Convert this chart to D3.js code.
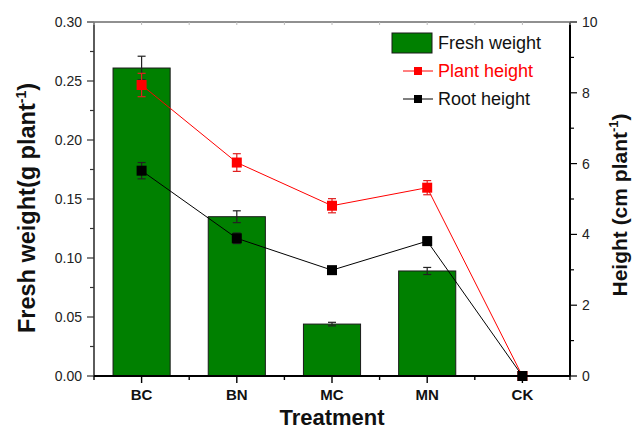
<!DOCTYPE html>
<html>
<head>
<meta charset="utf-8">
<script src="https://cdn.jsdelivr.net/npm/d3@7"></script>
<style>
  html, body { margin: 0; padding: 0; background: #fff; }
  svg { display: block; font-family: "Liberation Sans", Arial, sans-serif; }
</style>
</head>
<body>
<script>
const categories = ["BC", "BN", "MC", "MN", "CK"];
const freshWeight = [0.261, 0.135, 0.044, 0.089, 0];
const freshWeightErr = [0.010, 0.005, 0.0015, 0.003, 0];
const plantHeight = [8.22, 6.03, 4.81, 5.32, 0];
const plantHeightErr = [0.33, 0.25, 0.20, 0.20, 0];
const rootHeight = [5.80, 3.89, 2.99, 3.81, 0];
const rootHeightErr = [0.23, 0.15, 0.05, 0.12, 0];
const leftTicks = [0, 0.05, 0.10, 0.15, 0.20, 0.25, 0.30];
const rightTicks = [0, 2, 4, 6, 8, 10];
const legendLabels = ["Fresh weight", "Plant height", "Root height"];

const W = 634, H = 429;
const m = { left: 94, right: 64, top: 22, bottom: 53 };
const pw = W - m.left - m.right, ph = H - m.top - m.bottom;

const svg = d3.select("body").append("svg").attr("width", W).attr("height", H);
const g = svg.append("g").attr("transform", `translate(${m.left},${m.top})`);

const x = d3.scaleBand().domain(categories).range([0, pw]).paddingInner(0.4).paddingOuter(0.2);
const xStep = pw / categories.length;
const yL = d3.scaleLinear().domain([0, 0.30]).range([ph, 0]);
const yR = d3.scaleLinear().domain([0, 10]).range([ph, 0]);
const cx = c => x(c) + x.bandwidth() / 2;
const green = "#008000";

// Bars
g.selectAll("rect.bar").data(categories).join("rect")
  .attr("class", "bar")
  .attr("x", c => x(c)).attr("width", x.bandwidth())
  .attr("y", (c, i) => yL(freshWeight[i]))
  .attr("height", (c, i) => ph - yL(freshWeight[i]))
  .attr("fill", green).attr("stroke", "#1a1a1a").attr("stroke-width", 1);

function errBars(vals, errs, scale, color, capW) {
  const eg = g.append("g").attr("stroke", color).attr("stroke-width", 1.2);
  categories.forEach((c, i) => {
    if (!errs[i]) return;
    const X = cx(c), y1 = scale(vals[i] + errs[i]), y2 = scale(vals[i] - errs[i]);
    eg.append("line").attr("x1", X).attr("x2", X).attr("y1", y1).attr("y2", y2);
    eg.append("line").attr("x1", X - capW).attr("x2", X + capW).attr("y1", y1).attr("y2", y1);
    eg.append("line").attr("x1", X - capW).attr("x2", X + capW).attr("y1", y2).attr("y2", y2);
  });
}
errBars(freshWeight, freshWeightErr, yL, "#222", 4);

// Lines
function series(vals, errs, color, errColor) {
  const line = d3.line().x((d, i) => cx(categories[i])).y(d => yR(d));
  g.append("path").datum(vals).attr("d", line).attr("fill", "none")
    .attr("stroke", color).attr("stroke-width", 1);
  errBars(vals, errs, yR, errColor, 4);
  const s = 10;
  g.selectAll(null).data(vals).join("rect")
    .attr("x", (d, i) => cx(categories[i]) - s / 2)
    .attr("y", d => yR(d) - s / 2)
    .attr("width", s).attr("height", s)
    .attr("fill", color);
}
series(plantHeight, plantHeightErr, "#ff0000", "#e02020");
series(rootHeight, rootHeightErr, "#000000", "#222");

// left axis
const la = svg.append("g").attr("transform", `translate(${m.left},${m.top})`);
la.append("line").attr("x1", 0).attr("x2", 0).attr("y1", 0).attr("y2", ph).attr("stroke", "#333").attr("stroke-width", 1.6);
la.selectAll("line.maj").data(leftTicks).join("line")
  .attr("x1", -7).attr("x2", 0).attr("y1", d => yL(d)).attr("y2", d => yL(d)).attr("stroke", "#333").attr("stroke-width", 1.2);
la.selectAll("line.min").data(leftTicks.slice(0, -1)).join("line")
  .attr("x1", -4).attr("x2", 0).attr("y1", d => yL(d + 0.025)).attr("y2", d => yL(d + 0.025)).attr("stroke", "#333").attr("stroke-width", 1.2);
la.selectAll("text").data(leftTicks).join("text")
  .attr("x", -12).attr("y", d => yL(d)).attr("dy", "0.36em")
  .attr("text-anchor", "end").attr("font-size", 14).attr("fill", "#222")
  .text(d => d3.format(".2f")(d));

// right axis
const ra = svg.append("g").attr("transform", `translate(${m.left + pw},${m.top})`);
ra.append("line").attr("x1", 0).attr("x2", 0).attr("y1", 0).attr("y2", ph).attr("stroke", "#000").attr("stroke-width", 2);
ra.selectAll("line.maj").data(rightTicks).join("line")
  .attr("x1", 0).attr("x2", 7).attr("y1", d => yR(d)).attr("y2", d => yR(d)).attr("stroke", "#000").attr("stroke-width", 1.2);
ra.selectAll("line.min").data(rightTicks.slice(0, -1)).join("line")
  .attr("x1", 0).attr("x2", 4).attr("y1", d => yR(d + 1)).attr("y2", d => yR(d + 1)).attr("stroke", "#000").attr("stroke-width", 1.2);
ra.selectAll("text").data(rightTicks).join("text")
  .attr("x", 12).attr("y", d => yR(d)).attr("dy", "0.36em")
  .attr("text-anchor", "start").attr("font-size", 14).attr("fill", "#222")
  .text(d => d);

// top axis
const ta = svg.append("g").attr("transform", `translate(${m.left},${m.top})`);
ta.append("line").attr("x1", 0).attr("x2", pw).attr("y1", 0).attr("y2", 0).attr("stroke", "#222").attr("stroke-width", 1.2);
const topTicks = d3.range(0, categories.length * 2 + 1).map(k => k * xStep / 2);
ta.selectAll("line.t").data(topTicks).join("line")
  .attr("x1", d => d).attr("x2", d => d).attr("y1", 0).attr("y2", 3).attr("stroke", "#bbb").attr("stroke-width", 1);

// bottom axis
const ba = svg.append("g").attr("transform", `translate(${m.left},${m.top + ph})`);
ba.append("line").attr("x1", 0).attr("x2", pw).attr("y1", 0).attr("y2", 0).attr("stroke", "#000").attr("stroke-width", 2);
ba.selectAll("line.maj").data(categories).join("line")
  .attr("x1", c => cx(c)).attr("x2", c => cx(c)).attr("y1", 0).attr("y2", 7).attr("stroke", "#000").attr("stroke-width", 1.4);
ba.selectAll("line.min").data(d3.range(0, categories.length + 1)).join("line")
  .attr("x1", k => k * xStep).attr("x2", k => k * xStep).attr("y1", 0).attr("y2", 4).attr("stroke", "#000").attr("stroke-width", 1.4);
ba.selectAll("text").data(categories).join("text")
  .attr("x", c => cx(c)).attr("y", 24).attr("text-anchor", "middle")
  .attr("font-size", 15).attr("font-weight", "bold").attr("fill", "#111").text(c => c);

// Axis titles
svg.append("text").attr("x", m.left + pw / 2).attr("y", 425).attr("text-anchor", "middle")
  .attr("font-size", 22).attr("font-weight", "bold").attr("fill", "#111").text("Treatment");

const lt = svg.append("text").attr("transform", `translate(35,208) rotate(-90)`)
  .attr("text-anchor", "middle").attr("font-size", 23.5).attr("font-weight", "bold").attr("fill", "#111");
lt.append("tspan").text("Fresh weight(g plant");
lt.append("tspan").attr("font-size", 14).attr("dy", -9).text("-1");
lt.append("tspan").attr("dy", 9).text(")");

const rt = svg.append("text").attr("transform", `translate(627,205) rotate(-90)`)
  .attr("text-anchor", "middle").attr("font-size", 21).attr("font-weight", "bold").attr("fill", "#111");
rt.append("tspan").text("Height (cm plant");
rt.append("tspan").attr("font-size", 13).attr("dy", -9).text("-1");
rt.append("tspan").attr("dy", 9).text(")");

// Legend
const lg = svg.append("g");
lg.append("rect").attr("x", 392).attr("y", 33).attr("width", 40).attr("height", 20)
  .attr("fill", green).attr("stroke", "#1a1a1a").attr("stroke-width", 1);
lg.append("text").attr("x", 438).attr("y", 49).attr("font-size", 18).attr("fill", "#111").text(legendLabels[0]);
const legLines = [{ y: 71, color: "#ff0000", label: legendLabels[1], ty: 77 }, { y: 99, color: "#000", label: legendLabels[2], ty: 105 }];
legLines.forEach(d => {
  lg.append("line").attr("x1", 403).attr("x2", 433).attr("y1", d.y).attr("y2", d.y).attr("stroke", d.color).attr("stroke-width", 1);
  lg.append("rect").attr("x", 414).attr("y", d.y - 4).attr("width", 8).attr("height", 8).attr("fill", d.color);
  lg.append("text").attr("x", 438).attr("y", d.ty).attr("font-size", 18).attr("fill", d.color === "#000" ? "#111" : d.color).text(d.label);
});
</script>
</body>
</html>
